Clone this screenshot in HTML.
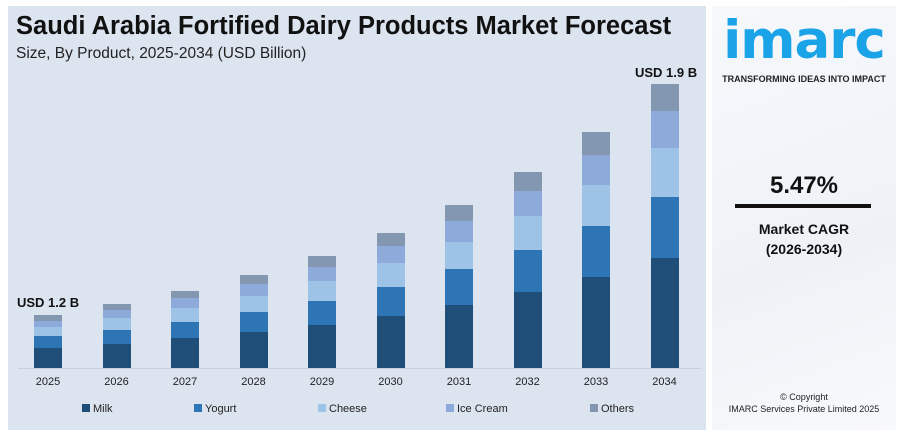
<!DOCTYPE html>
<html><head><meta charset="utf-8"><style>
body{margin:0;width:902px;height:440px;background:#fff;position:relative;overflow:hidden;font-family:"Liberation Sans",sans-serif}
.a{position:absolute}
.panel{left:8px;top:6px;width:698px;height:424px;background:#dce4f0}
.right{left:712px;top:6px;width:184px;height:424px;background:linear-gradient(160deg,#f6f8fb,#eef2f7 60%,#f8f9fb)}
.bar{position:absolute;width:28px}
.yr{position:absolute;top:376px;width:60px;text-align:center;font-size:11px;color:#222}
.lg{position:absolute;top:403px;font-size:11px;color:#222}
.lg i{display:inline-block;width:8px;height:8px;margin-right:3px;vertical-align:-0px}
</style></head><body>
<div class="a panel"></div>
<div class="a right"></div>
<div class="a" style="left:16px;top:12px;font-size:25.5px;font-weight:bold;color:#111;white-space:nowrap">Saudi Arabia Fortified Dairy Products Market Forecast</div>
<div class="a" style="left:16px;top:45px;font-size:15.5px;color:#222">Size, By Product, 2025-2034 (USD Billion)</div>
<div class="a" style="left:18px;top:368px;width:683px;height:1px;background:#c8d0dc"></div>
<div id="bars"></div>
<div class="a" style="left:17px;top:295px;font-size:13px;font-weight:bold;color:#111">USD 1.2 B</div>
<div class="a" style="left:635px;top:65px;font-size:13px;font-weight:bold;color:#111">USD 1.9 B</div>
<div class="lg" style="left:82px"><i style="background:#1f4e79"></i>Milk</div>
<div class="lg" style="left:194px"><i style="background:#2e75b6"></i>Yogurt</div>
<div class="lg" style="left:318px"><i style="background:#9dc3e6"></i>Cheese</div>
<div class="lg" style="left:446px"><i style="background:#8eaadb"></i>Ice Cream</div>
<div class="lg" style="left:590px"><i style="background:#8497b0"></i>Others</div>
<div class="a" style="left:712px;top:10px;width:184px;text-align:center;font-size:53px;font-weight:bold;color:#1ba3e8;letter-spacing:-1px;font-family:'DejaVu Sans',sans-serif">imarc</div>
<div class="a" style="left:712px;top:74px;width:184px;text-align:center;font-size:9px;font-weight:bold;color:#222">TRANSFORMING IDEAS INTO IMPACT</div>
<div class="a" style="left:712px;top:172px;width:184px;text-align:center;font-size:24px;font-weight:bold;color:#111">5.47%</div>
<div class="a" style="left:735px;top:204px;width:136px;height:4px;background:#111"></div>
<div class="a" style="left:712px;top:219px;width:184px;text-align:center;font-size:14px;font-weight:bold;color:#111;line-height:20px">Market CAGR<br>(2026-2034)</div>
<div class="a" style="left:712px;top:391px;width:184px;text-align:center;font-size:9px;color:#222;line-height:12px">© Copyright<br>IMARC Services Private Limited 2025</div>
<script>
var d=[[315,321,327,336,348],[304,310,318,330,344],[291,298,308,322,338],[275,284,296,312,332],[256,267,281,301,325],[233,246,263,287,316],[205,221,242,269,305],[172,191,216,250,292],[132,155,185,226,277],[84,111,148,197,258]];
var c=['#8497b0','#8eaadb','#9dc3e6','#2e75b6','#1f4e79'];
var h='';
for(var i=0;i<10;i++){var cx=48+i*68.5,x=cx-14;
for(var j=0;j<5;j++){var t=d[i][j],b=j<4?d[i][j+1]:368;
h+='<div class="bar" style="left:'+x+'px;top:'+t+'px;height:'+(b-t)+'px;background:'+c[j]+'"></div>';}
h+='<div class="yr" style="left:'+(cx-30)+'px">'+(2025+i)+'</div>';}
document.getElementById('bars').innerHTML=h;
</script>
</body></html>
